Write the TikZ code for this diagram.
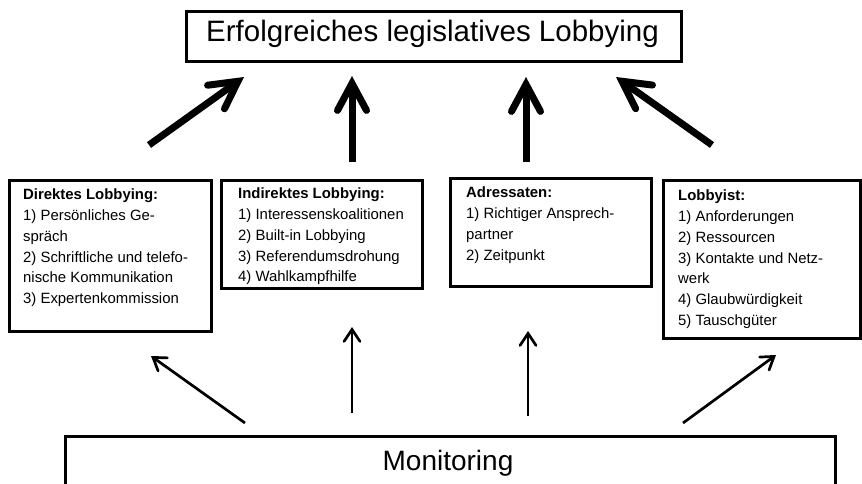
\documentclass[tikz,border=0pt]{standalone}
\usepackage{fontspec}
\setmainfont{Liberation Sans}
\usetikzlibrary{arrows.meta}
\tikzset{
 box/.style={draw, line width=3.3pt, inner sep=0pt, anchor=north west},
 boxtext/.style={anchor=north west, align=left, inner sep=0pt, font=\fontsize{14.9}{20.9}\selectfont},
 bigarrow/.style={line width=7pt, -{Straight Barb[length=27pt,width=29pt,line cap=round,line join=miter]}},
 thinarrow/.style={line width=2.7pt, -{Straight Barb[length=12pt,width=16pt,line cap=round,line join=miter]}},
}
\begin{document}
\begin{tikzpicture}[x=1pt,y=-1pt]
\useasboundingbox (0,0) rectangle (862,483);
\clip (0,0) rectangle (862,483);
% goal
\node[box, minimum width=495pt, minimum height=50pt] (goal) at (185,10) {};
\node[anchor=base, inner sep=0pt, font=\fontsize{29.5}{36}\selectfont] (goaltext) at (432.5,41.7) {Erfolgreiches legislatives Lobbying};
% four boxes
\node[box, minimum width=202pt, minimum height=151pt] (direkt) at (8,179) {};
\node[boxtext] (direkttext) at (23,188.3) {\textbf{Direktes Lobbying:}\\1) Persönliches Ge-\\spräch\\2) Schriftliche und telefo-\\nische Kommunikation\\3) Expertenkommission};
\node[boxtext] (indirekttext) at (238,187.3) {\textbf{Indirektes Lobbying:}\\1) Interessenskoalitionen\\2) Built-in Lobbying\\3) Referendumsdrohung\\4) Wahlkampfhilfe};
\node[box, minimum width=201pt, minimum height=108pt] (indirekt) at (220,179) {};
\node[box, minimum width=201pt, minimum height=108pt] (adress) at (449,177) {};
\node[boxtext] (adresstext) at (466,186.3) {\textbf{Adressaten:}\\1) Richtiger Ansprech-\\partner\\2) Zeitpunkt};
\node[box, minimum width=197pt, minimum height=158pt] (lobbyist) at (662,179) {};
\node[boxtext] (lobbyisttext) at (678,189.3) {\textbf{Lobbyist:}\\1) Anforderungen\\2) Ressourcen\\3) Kontakte und Netz-\\werk\\4) Glaubwürdigkeit\\5) Tauschgüter};
% monitoring
\node[box, minimum width=770pt, minimum height=80pt] (monitor) at (64,435) {};
\node[anchor=base, inner sep=0pt, font=\fontsize{28}{34}\selectfont] (montext) at (448,470) {Monitoring};
% thick arrows endpoints
\coordinate (a1s) at (149,145); \coordinate (a1e) at (244,77);
\coordinate (a2s) at (352,162); \coordinate (a2e) at (352,76);
\coordinate (a3s) at (526,162); \coordinate (a3e) at (526,77);
\coordinate (a4s) at (712,145); \coordinate (a4e) at (616,77);
\draw[bigarrow] (a1s) -- (a1e);
\draw[bigarrow] (a2s) -- (a2e);
\draw[bigarrow] (a3s) -- (a3e);
\draw[bigarrow] (a4s) -- (a4e);
% thin arrows endpoints
\coordinate (m1s) at (245,423); \coordinate (m1e) at (151,356);
\coordinate (m2s) at (352,413); \coordinate (m2e) at (352,327);
\coordinate (m3s) at (528,416); \coordinate (m3e) at (528,331);
\coordinate (m4s) at (683,423); \coordinate (m4e) at (776,355);
\draw[thinarrow] (m1s) -- (m1e);
\draw[thinarrow] (m2s) -- (m2e);
\draw[thinarrow] (m3s) -- (m3e);
\draw[thinarrow] (m4s) -- (m4e);
\end{tikzpicture}
\end{document}
